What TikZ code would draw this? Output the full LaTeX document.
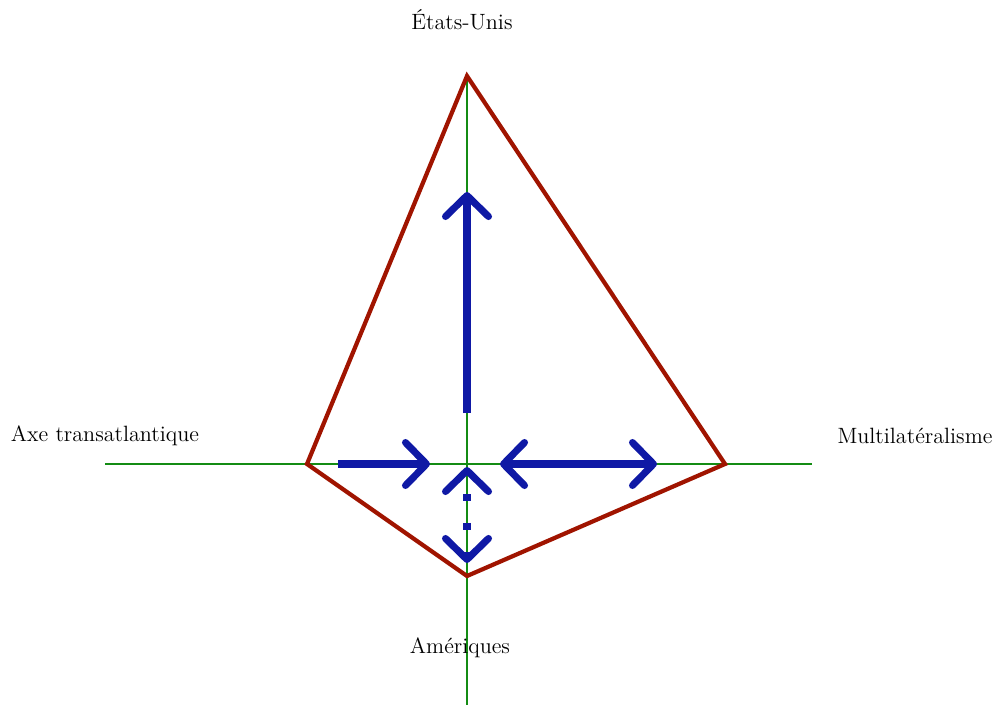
\documentclass[tikz,border=0pt]{standalone}
\usetikzlibrary{arrows.meta}
\definecolor{axisgreen}{RGB}{20,140,20}
\definecolor{polyred}{RGB}{160,20,0}
\definecolor{movblue}{RGB}{15,25,165}

\begin{document}
\begin{tikzpicture}[
    x=0.02cm, y=-0.02cm,
    every node/.style = {align=center, font=\fontsize{12.6}{15}\selectfont},
    axisln/.style     = {draw=axisgreen, line width=1.1pt},
    polyln/.style     = {draw=polyred, line width=2.4pt, line join=miter},
    barb/.tip         = {Straight Barb[length=0.42cm, width=0.86cm, round]},
    movln/.style      = {draw=movblue, line width=4pt, -barb},
    movdot/.style     = {movln, dash pattern=on 4pt off 12.4pt, dash phase=5pt}]
    \useasboundingbox (0,0) rectangle (1000,709);

    % Axes
    \coordinate (ctr)  at (467,464);
    \coordinate (axN)  at (467,78);
    \coordinate (axS)  at (467,705);
    \coordinate (axW)  at (105,464);
    \coordinate (axE)  at (812,464);
    \draw[axisln] (axN) -- (axS);
    \draw[axisln] (axW) -- (axE);

    % Labels
    \node (usa)   at (462,20)  {États-Unis};
    \node (trans) at (105,436) {Axe transatlantique};
    \node (multi) at (915,436) {Multilatéralisme};
    \node (amer)  at (460,648) {Amériques};

    % Polygon
    \coordinate (pN) at (467,76);
    \coordinate (pE) at (725,464);
    \coordinate (pS) at (467,576);
    \coordinate (pW) at (307,464);
    \draw[polyln] (pN) -- (pE) -- (pS) -- (pW) -- cycle;

    % Shifts
    \coordinate (upA)  at (467,413);
    \coordinate (upB)  at (467,192);
    \coordinate (wA)   at (338,464);
    \coordinate (wB)   at (430,464);
    \coordinate (eA)   at (500,464);
    \coordinate (eB)   at (657,464);
    \coordinate (sA)   at (467,467);
    \coordinate (sB)   at (467,563);
    \draw[movln] (upA) -- (upB);
    \draw[movln] (wA) -- (wB);
    \draw[movln, barb-barb] (eA) -- (eB);
    \draw[movdot, barb-barb] (sA) -- (sB);
  \end{tikzpicture}
\end{document}
